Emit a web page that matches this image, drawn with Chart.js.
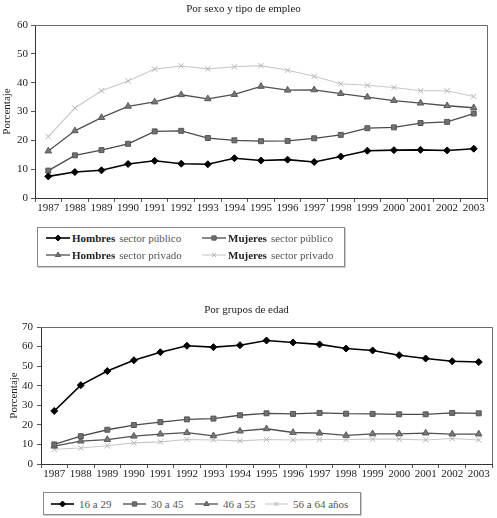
<!DOCTYPE html>
<html>
<head>
<meta charset="utf-8">
<script src="https://cdn.jsdelivr.net/npm/chart.js@4.4.0/dist/chart.umd.min.js"></script>
<style>
  html, body { margin: 0; padding: 0; background: #fff; }
  #page { position: relative; width: 497px; height: 518px; overflow: hidden; font-family: "Liberation Serif", "DejaVu Serif", serif; }
  .box { position: absolute; }
  .legend { position: absolute; border: 1px solid #8a8a8a; box-sizing: border-box; box-shadow: 1px 1px 0 #ccc; }
  .item { position: absolute; display: flex; align-items: center; height: 14px; white-space: nowrap; }
  .item canvas { display: block; }
  .strong { font-size: 11px; font-weight: bold; color: #222; margin-right: 4px; }
  .weak { font-size: 11px; color: #555; }
</style>
</head>
<body>
<div id="page">
  <div class="box" style="left:0;top:0;width:497px;height:220px"><canvas id="top"></canvas></div>
  <div class="legend" id="legendTop" style="left:37px;top:227px;width:308px;height:40px"></div>
  <div class="box" style="left:0;top:290px;width:497px;height:196px"><canvas id="bottom"></canvas></div>
  <div class="legend" id="legendBottom" style="left:43px;top:492px;width:318px;height:23px"></div>
</div>
<script>
// categories
const years = ['1987', '1988', '1989', '1990', '1991', '1992', '1993', '1994', '1995',
               '1996', '1997', '1998', '1999', '2000', '2001', '2002', '2003'];

// Por sexo y tipo de empleo
const hombresPublico = [7.5, 9.0, 9.6, 11.8, 12.9, 11.9, 11.7, 13.8, 13.0, 13.3, 12.5, 14.4, 16.4, 16.6, 16.7, 16.5, 17.1];
const mujeresPublico = [9.5, 14.8, 16.6, 18.8, 23.1, 23.3, 20.8, 20.0, 19.7, 19.8, 20.7, 21.9, 24.2, 24.5, 26.0, 26.4, 29.3];
const hombresPrivado = [16.3, 23.3, 27.9, 31.8, 33.3, 35.8, 34.4, 35.9, 38.7, 37.4, 37.5, 36.2, 35.0, 33.8, 32.9, 32.0, 31.3];
const mujeresPrivado = [21.3, 31.2, 37.2, 40.6, 44.7, 45.8, 44.8, 45.5, 45.9, 44.3, 42.2, 39.6, 39.1, 38.3, 37.2, 37.2, 35.2];

// Por grupos de edad
const edad16a29 = [27.1, 40.3, 47.5, 53.0, 57.1, 60.4, 59.7, 60.7, 63.1, 62.1, 61.1, 59.0, 58.0, 55.6, 53.9, 52.5, 52.1];
const edad30a45 = [10.0, 14.2, 17.5, 19.9, 21.4, 22.8, 23.2, 24.9, 25.9, 25.6, 26.1, 25.7, 25.6, 25.4, 25.4, 26.1, 25.9];
const edad46a55 = [9.1, 11.7, 12.5, 14.2, 15.3, 16.0, 14.4, 16.8, 18.0, 16.1, 15.8, 14.6, 15.4, 15.4, 15.8, 15.3, 15.3];
const edad56a64 = [7.5, 8.2, 9.3, 10.8, 11.3, 12.5, 12.3, 11.8, 12.5, 12.3, 12.5, 12.5, 12.7, 12.7, 12.3, 13.0, 12.3];

// tick settings
const topTicks = { max: 60, step: 10 };
const bottomTicks = { max: 70, step: 10 };

const FONT = '"Liberation Serif", "DejaVu Serif", serif';

// the four line styles used in both charts
const styles = [
    { borderColor: '#000', pointBackgroundColor: '#000', pointBorderColor: '#000', pointStyle: 'rectRot', pointRadius: 3.5, borderWidth: 1.6 },
    { borderColor: '#4a4a4a', pointBackgroundColor: '#707070', pointBorderColor: '#555', pointStyle: 'rect', pointRadius: 3.5, borderWidth: 1.3 },
    { borderColor: '#505050', pointBackgroundColor: '#777', pointBorderColor: '#5a5a5a', pointStyle: 'triangle', pointRadius: 3.8, borderWidth: 1.3 },
    { borderColor: '#c8c8c8', pointBackgroundColor: '#bbb', pointBorderColor: '#b4b4b4', pointStyle: 'crossRot', pointRadius: 3.8, borderWidth: 1.1 }
];

function makeDatasets(labels, series) {
    return series.map((data, i) => Object.assign({
        label: labels[i],
        data: data,
        tension: 0,
        fill: false,
        pointBorderWidth: 1,
        pointHoverRadius: 4
    }, styles[i]));
}

// draws the frame round the plot area
const frame = {
    id: 'frame',
    afterDraw(chart) {
        const a = chart.chartArea;
        const ctx = chart.ctx;
        ctx.save();
        ctx.strokeStyle = '#6a6a6a';
        ctx.lineWidth = 1;
        ctx.beginPath();
        ctx.moveTo(a.left, Math.round(a.top) + 0.5);
        ctx.lineTo(Math.round(a.right) + 0.5, Math.round(a.top) + 0.5);
        ctx.lineTo(Math.round(a.right) + 0.5, a.bottom);
        ctx.stroke();
        ctx.restore();
    }
};

function makeChart(id, title, labels, series, ticks, geo) {
    return new Chart(document.getElementById(id), {
        type: 'line',
        data: { labels: years, datasets: makeDatasets(labels, series) },
        plugins: [frame],
        options: {
            responsive: true,
            maintainAspectRatio: false,
            animation: false,
            events: [],
            layout: { padding: { left: 0, right: geo.right, top: 0, bottom: 0 } },
            plugins: {
                legend: { display: false },
                tooltip: { enabled: false },
                title: {
                    display: true,
                    text: title,
                    color: '#222',
                    font: { family: FONT, size: 11, weight: 'normal' },
                    padding: { top: geo.titleTop, bottom: geo.titleBottom }
                }
            },
            scales: {
                x: {
                    offset: true,
                    grid: { offset: true, drawOnChartArea: false, drawTicks: true, tickLength: 4, color: '#555' },
                    border: { color: '#333', width: 1 },
                    ticks: { color: '#222', padding: 0, maxRotation: 0, autoSkip: false, font: { family: FONT, size: 11 } },
                    afterFit(s) { s.height = 22; }
                },
                y: {
                    min: 0,
                    max: ticks.max,
                    grid: { drawOnChartArea: false, drawTicks: true, tickLength: 4, color: '#555' },
                    border: { color: '#333', width: 1 },
                    ticks: { stepSize: ticks.step, color: '#222', padding: geo.tickPad, font: { family: FONT, size: 11 } },
                    title: {
                        display: true,
                        text: 'Porcentaje',
                        color: '#222',
                        font: { family: FONT, size: 11 },
                        padding: { top: geo.yTitlePad, bottom: 0 }
                    },
                    afterFit(s) { s.width = geo.left; }
                }
            }
        }
    });
}

function sample(style, w, gap) {
    const c = document.createElement('canvas');
    c.width = w; c.height = 12;
    c.style.width = w + 'px'; c.style.height = '12px';
    c.style.marginRight = gap + 'px';
    const ctx = c.getContext('2d');
    ctx.strokeStyle = style.borderColor;
    ctx.lineWidth = style.borderWidth;
    ctx.beginPath();
    ctx.moveTo(0, 6); ctx.lineTo(w, 6);
    ctx.stroke();
    ctx.fillStyle = style.pointBackgroundColor;
    ctx.strokeStyle = style.pointBorderColor;
    ctx.lineWidth = 1;
    Chart.helpers.drawPoint(ctx, { pointStyle: style.pointStyle, radius: 3, borderWidth: 1, rotation: 0 }, w / 2, 6);
    return c;
}

function makeLegend(chart, id, places, split) {
    const box = document.getElementById(id);
    chart.data.datasets.forEach((ds, i) => {
        const it = document.createElement('div');
        it.className = 'item';
        it.style.left = places[i][0] + 'px';
        it.style.top = places[i][1] + 'px';
        if (split) {
            it.appendChild(sample(styles[i], 24, 2));
            const k = ds.label.indexOf(' ');
            const a = document.createElement('span');
            a.className = 'strong';
            a.textContent = ds.label.slice(0, k);
            const b = document.createElement('span');
            b.className = 'weak';
            b.textContent = ds.label.slice(k + 1);
            it.appendChild(a); it.appendChild(b);
        } else {
            it.appendChild(sample(styles[i], 23, 5));
            const a = document.createElement('span');
            a.className = 'weak';
            a.textContent = ds.label;
            it.appendChild(a);
        }
        box.appendChild(it);
    });
}

const topChart = makeChart('top', 'Por sexo y tipo de empleo',
    ['Hombres sector público', 'Mujeres sector público', 'Hombres sector privado', 'Mujeres sector privado'],
    [hombresPublico, mujeresPublico, hombresPrivado, mujeresPrivado],
    topTicks,
    { left: 35, right: 10, titleTop: 2.4, titleBottom: 9.4, tickPad: 3, yTitlePad: 0.4 });

const bottomChart = makeChart('bottom', 'Por grupos de edad',
    ['16 a 29', '30 a 45', '46 a 55', '56 a 64 años'],
    [edad16a29, edad30a45, edad46a55, edad56a64],
    bottomTicks,
    { left: 41, right: 4, titleTop: 13.4, titleBottom: 10.4, tickPad: 4, yTitlePad: 7.4 });

makeLegend(topChart, 'legendTop', [[8, 3], [164, 3], [8, 20], [164, 20]], true);
makeLegend(bottomChart, 'legendBottom', [[7, 4], [79, 4], [151, 4], [221, 4]], false);
</script>
</body>
</html>
